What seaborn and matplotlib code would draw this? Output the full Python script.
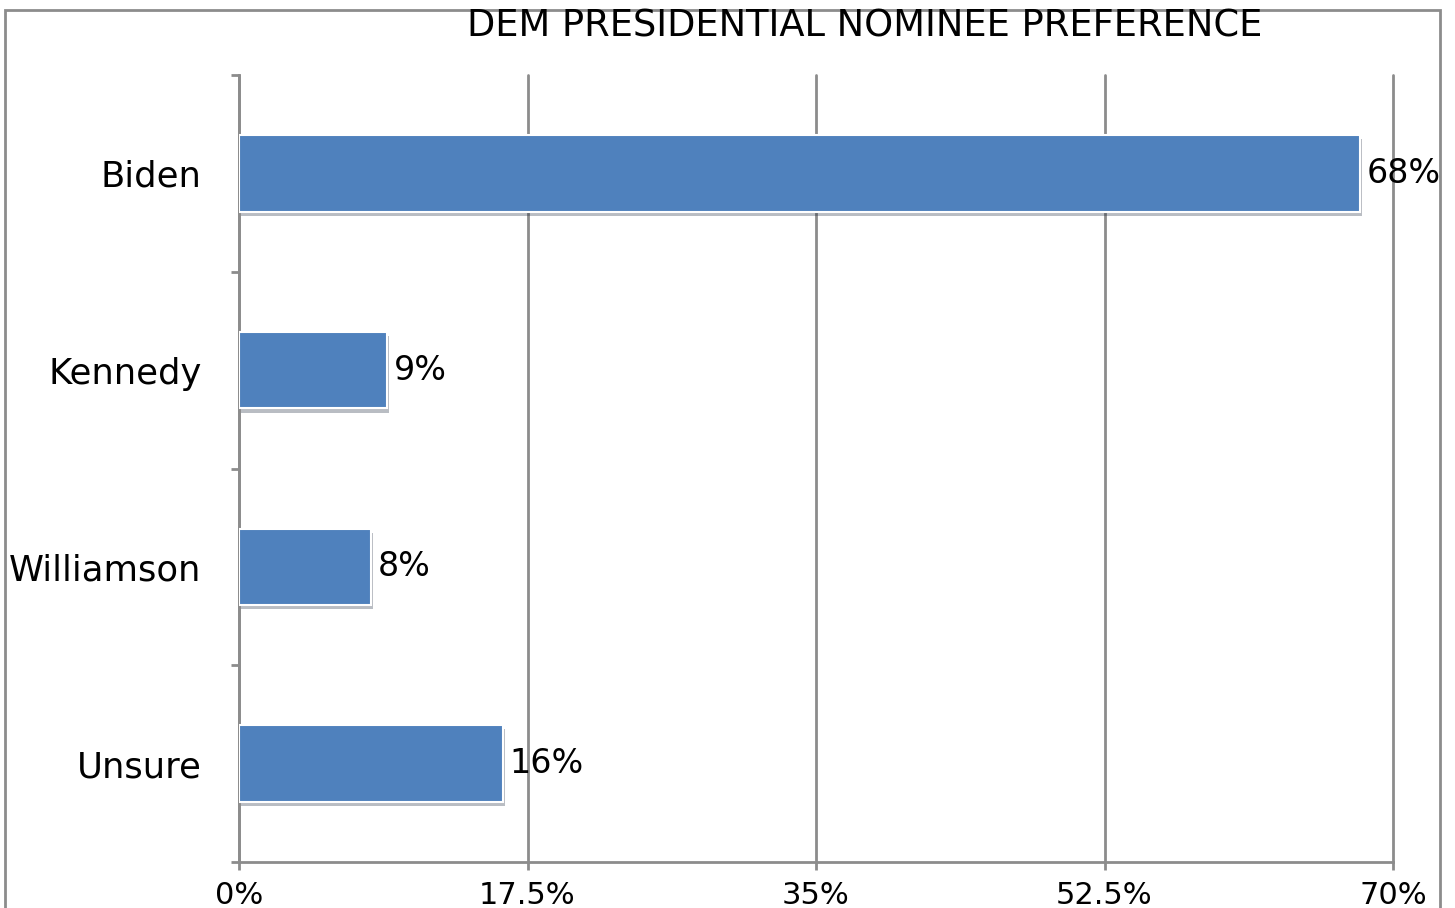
import seaborn as sns
import matplotlib.pyplot as plt
import matplotlib.patheffects as pe
from matplotlib.patches import Rectangle

candidates = ['Biden', 'Kennedy', 'Williamson', 'Unsure']
share = [68, 9, 8, 16]
xticks = [0, 17.5, 35, 52.5, 70]
xtick_labels = ['0%', '17.5%', '35%', '52.5%', '70%']

sns.set_style('white')
plt.rcParams['font.family'] = ['DejaVu Sans']
plt.rcParams['text.color'] = 'black'
plt.rcParams['xtick.labelcolor'] = 'black'
plt.rcParams['ytick.labelcolor'] = 'black'

fig = plt.figure(figsize=(14.55, 9.08), dpi=100)
ax = fig.add_axes([239 / 1455, 1 - 862 / 908, (1393 - 239) / 1455, (862 - 75) / 908])

sns.barplot(x=share, y=candidates, orient='h', color='#4f81bd', saturation=1, width=0.39,
            edgecolor='white', linewidth=1.5, ax=ax, zorder=3)
for bar in ax.patches:
    bar.set_path_effects([pe.SimplePatchShadow(offset=(1.5, -3), alpha=0.3), pe.Normal()])

ax.set_xlim(0, 70)
ax.set_ylim(3.5, -0.5)
ax.set_xticks(xticks)
ax.set_xticklabels(xtick_labels)
ax.xaxis.grid(True, color='#8c8c8c', linewidth=2, zorder=0)
for gl in ax.get_xgridlines():
    gl.set_clip_on(False)
ax.set_axisbelow(True)

for s in ['top', 'right']:
    ax.spines[s].set_visible(False)
for s in ['left', 'bottom']:
    ax.spines[s].set_color('#8c8c8c')
    ax.spines[s].set_linewidth(2)

ax.tick_params(axis='x', length=6, width=2, color='#8c8c8c', labelsize=22, pad=8, bottom=True,
               labelcolor='black')
ax.tick_params(axis='y', which='major', length=0, labelsize=25.5, pad=27, labelcolor='black')
ax.set_yticks([-0.5, 0.5, 1.5, 2.5, 3.5], minor=True)
ax.tick_params(axis='y', which='minor', length=6, width=2, color='#8c8c8c', left=True)

for i, v in enumerate(share):
    ax.text(v + 0.4, i, f'{v}%', va='center', ha='left', fontsize=24, color='black', zorder=5)

fig.text(865 / 1455, 1 - 26 / 908, 'DEM PRESIDENTIAL NOMINEE PREFERENCE',
         ha='center', va='center', fontsize=26.5, color='black')

fig.patches.append(Rectangle((5 / 1455, -0.1), (1440 - 5) / 1455, 1.1 - 10 / 908,
                             transform=fig.transFigure, fill=False,
                             edgecolor='#8c8c8c', linewidth=2))

fig.savefig('out.png', dpi=100)
